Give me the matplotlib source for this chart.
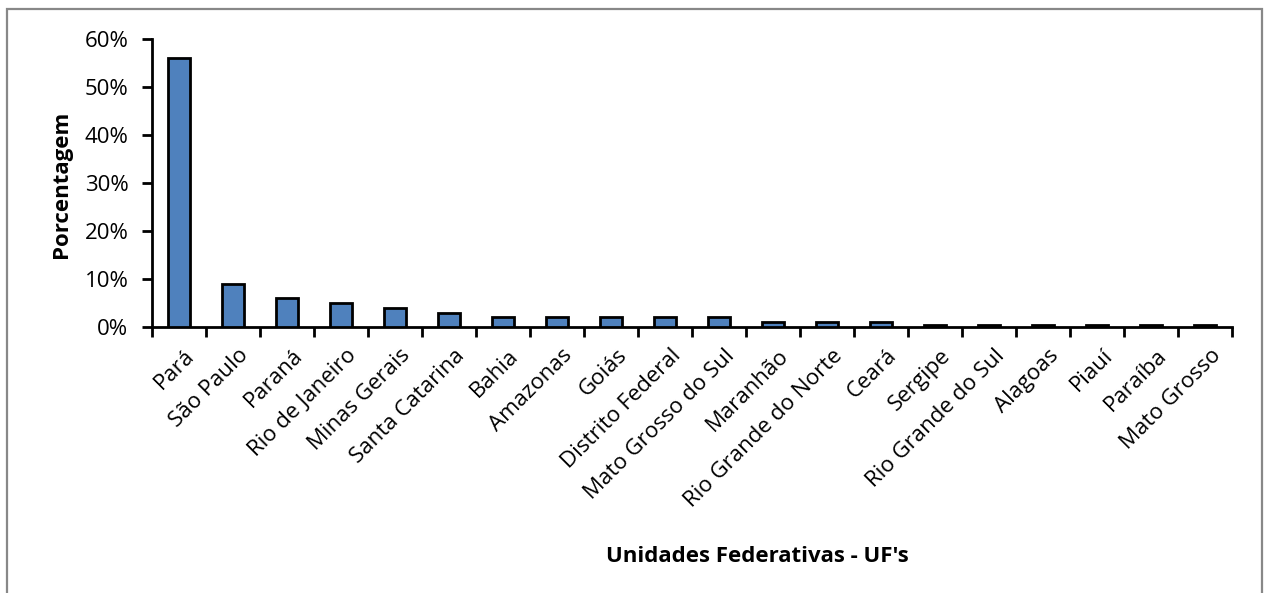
import matplotlib.pyplot as plt
from matplotlib.patches import Rectangle
from matplotlib.ticker import FuncFormatter, FixedLocator
from matplotlib.transforms import ScaledTranslation

plt.rcParams["font.family"] = ["Open Sans", "DejaVu Sans"]

estados = [
    "Pará", "São Paulo", "Paraná", "Rio de Janeiro", "Minas Gerais",
    "Santa Catarina", "Bahia", "Amazonas", "Goiás", "Distrito Federal",
    "Mato Grosso do Sul", "Maranhão", "Rio Grande do Norte", "Ceará",
    "Sergipe", "Rio Grande do Sul", "Alagoas", "Piauí", "Paraíba",
    "Mato Grosso",
]
porcentagem = [56, 9, 6, 5, 4, 3, 2, 2, 2, 2, 2, 1, 1, 1,
               0.4, 0.4, 0.4, 0.4, 0.4, 0.4]

fig = plt.figure(figsize=(12.64, 5.93), dpi=100)
ax = fig.add_axes([0.1203, 0.4486, 0.8544, 0.4856])

x = list(range(len(estados)))
ax.bar(x, porcentagem, width=0.42, color="#4f81bd", edgecolor="black",
       linewidth=2, zorder=3)

ax.set_xlim(-0.5, len(estados) - 0.5)
ax.set_ylim(0, 60)
ax.set_yticks(range(0, 61, 10))
ax.yaxis.set_major_formatter(FuncFormatter(lambda v, p: f"{v:.0f}%"))

# ticks at category boundaries, labels centred on bars
ax.xaxis.set_major_locator(FixedLocator([i - 0.5 for i in range(len(estados) + 1)]))
ax.xaxis.set_minor_locator(FixedLocator(x))
ax.set_xticklabels([])
ax.set_xticklabels(estados, minor=True, rotation=45, ha="right",
                   rotation_mode="anchor", fontsize=16)
ax.tick_params(axis="x", which="minor", length=0, pad=13)
ax.tick_params(axis="x", which="major", length=7, width=2, direction="out")
ax.tick_params(axis="y", length=7, width=2, labelsize=16, pad=10)
shift = ScaledTranslation(5 / 100, 0, fig.dpi_scale_trans)
for lbl in ax.get_xticklabels(minor=True):
    lbl.set_transform(lbl.get_transform() + shift)

for side in ["top", "right"]:
    ax.spines[side].set_visible(False)
ax.spines["left"].set_linewidth(2)
ax.spines["bottom"].set_linewidth(2)

ax.set_ylabel("Porcentagem", fontsize=16, fontweight="bold")
ax.yaxis.set_label_coords(61 / 1264, 1 - 184 / 593, transform=fig.transFigure)
ax.yaxis.label.set_va("center")
fig.text(757 / 1264, 1 - 557 / 593, "Unidades Federativas - UF's", ha="center",
         va="center", fontsize=16, fontweight="bold")

fig.patches.append(Rectangle((7 / 1264, -0.05), 1255 / 1264, 1.05 - 9 / 593,
                             transform=fig.transFigure, fill=False,
                             edgecolor="#888888", linewidth=1.6))

fig.savefig("out.png", dpi=100)
